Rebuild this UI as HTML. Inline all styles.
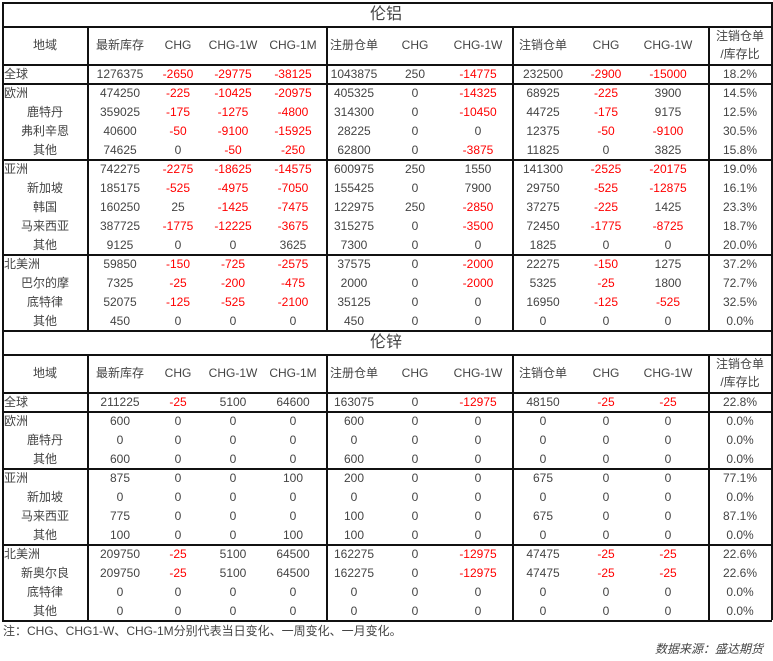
<!DOCTYPE html>
<html><head><meta charset="utf-8">
<style>
body{margin:0;background:#fff;width:773px;height:661px;overflow:hidden;position:relative;font-family:"Liberation Sans","Noto Sans CJK SC",sans-serif;font-size:12px;color:#444}
.t{position:absolute;white-space:nowrap;transform:translate(-50%,-50%);line-height:1}
.l{position:absolute;transform:translateY(-50%);white-space:nowrap;line-height:1}
.h{position:absolute;height:1.5px;background:#111;left:2px;width:770px}
.v{position:absolute;width:1.5px;background:#111}
.r{color:#f00}
</style></head>
<body>
<div id="root"></div>
<script>
const colX=[45,120,178,233,293,354,415,478,543,606,668,740];
const headers=['地域','最新库存','CHG','CHG-1W','CHG-1M','注册仓单','CHG','CHG-1W','注销仓单','CHG','CHG-1W'];
const alRows=[
['全球',0,['1276375','-2650','-29775','-38125','1043875','250','-14775','232500','-2900','-15000','18.2%']],
['欧洲',0,['474250','-225','-10425','-20975','405325','0','-14325','68925','-225','3900','14.5%']],
['鹿特丹',1,['359025','-175','-1275','-4800','314300','0','-10450','44725','-175','9175','12.5%']],
['弗利辛恩',1,['40600','-50','-9100','-15925','28225','0','0','12375','-50','-9100','30.5%']],
['其他',1,['74625','0','-50','-250','62800','0','-3875','11825','0','3825','15.8%']],
['亚洲',0,['742275','-2275','-18625','-14575','600975','250','1550','141300','-2525','-20175','19.0%']],
['新加坡',1,['185175','-525','-4975','-7050','155425','0','7900','29750','-525','-12875','16.1%']],
['韩国',1,['160250','25','-1425','-7475','122975','250','-2850','37275','-225','1425','23.3%']],
['马来西亚',1,['387725','-1775','-12225','-3675','315275','0','-3500','72450','-1775','-8725','18.7%']],
['其他',1,['9125','0','0','3625','7300','0','0','1825','0','0','20.0%']],
['北美洲',0,['59850','-150','-725','-2575','37575','0','-2000','22275','-150','1275','37.2%']],
['巴尔的摩',1,['7325','-25','-200','-475','2000','0','-2000','5325','-25','1800','72.7%']],
['底特律',1,['52075','-125','-525','-2100','35125','0','0','16950','-125','-525','32.5%']],
['其他',1,['450','0','0','0','450','0','0','0','0','0','0.0%']]];
const znRows=[
['全球',0,['211225','-25','5100','64600','163075','0','-12975','48150','-25','-25','22.8%']],
['欧洲',0,['600','0','0','0','600','0','0','0','0','0','0.0%']],
['鹿特丹',1,['0','0','0','0','0','0','0','0','0','0','0.0%']],
['其他',1,['600','0','0','0','600','0','0','0','0','0','0.0%']],
['亚洲',0,['875','0','0','100','200','0','0','675','0','0','77.1%']],
['新加坡',1,['0','0','0','0','0','0','0','0','0','0','0.0%']],
['马来西亚',1,['775','0','0','0','100','0','0','675','0','0','87.1%']],
['其他',1,['100','0','0','100','100','0','0','0','0','0','0.0%']],
['北美洲',0,['209750','-25','5100','64500','162275','0','-12975','47475','-25','-25','22.6%']],
['新奥尔良',1,['209750','-25','5100','64500','162275','0','-12975','47475','-25','-25','22.6%']],
['底特律',1,['0','0','0','0','0','0','0','0','0','0','0.0%']],
['其他',1,['0','0','0','0','0','0','0','0','0','0','0.0%']]];
const root=document.getElementById('root');
function txt(s,x,y,cls,name,left){const d=document.createElement('div');d.className=left?'l':'t';if(cls)d.className+=' '+cls;d.style.left=x+'px';d.style.top=y+'px';d.innerHTML=s;


root.appendChild(d);return d;}
function line(cls,x,y,len){const d=document.createElement('div');d.className=cls;if(cls==='h'){d.style.top=y+'px';}else{d.style.left=x+'px';d.style.top=y+'px';d.style.height=len+'px';}


root.appendChild(d);}
function section(title,top,rows,groupSplits,id){
  line('h',0,top);
  txt(title,386,top+13,'',id+'-title').style.fontSize='16px';
  line('v',2,top,24);line('v',771,top,24);
  const hTop=top+24;line('h',0,hTop);
  headers.forEach((h,i)=>txt(h,colX[i],hTop+19,'',id+'-header'));
  txt('注销仓单',740,hTop+10,'',id+'-header');txt('/库存比',740,hTop+28,'',id+'-header');
  let y=hTop+38;line('h',0,y);
  rows.forEach((r,ri)=>{
    if(groupSplits.includes(ri)){line('h',0,y);}
    const cy=y+9.5;
    if(r[1])txt(r[0],colX[0],cy,'',id+'-region-label');else txt(r[0],4,cy,'',id+'-region-label',true);
    r[2].forEach((v,i)=>txt(v,colX[i+1],cy,v[0]==='-'?'r':'',id+'-cell'));
    y+=19;
  });
  line('h',0,y);
  [2,87,326,512,708,771].forEach(x=>line('v',x,hTop,y-hTop));
  return y;
}
section('伦铝',2,alRows,[1,5,10],'aluminum');
section('伦锌',330,znRows,[1,4,8],'zinc');
txt('注：CHG、CHG1-W、CHG-1M分别代表当日变化、一周变化、一月变化。',3,631,'','footnote',true);
const s=txt('数据来源：盛达期货',655,649,'','data-source',true);s.style.fontStyle='italic';
</script>
</body></html>
